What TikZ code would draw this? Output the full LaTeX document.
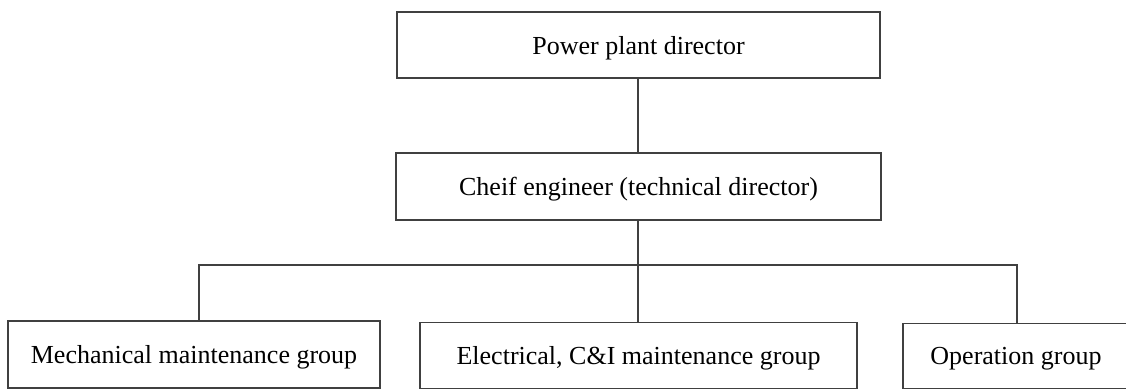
\documentclass[tikz,border=0pt]{standalone}
\usepackage{fontspec}
\setmainfont{Liberation Serif}
\definecolor{linegray}{HTML}{404040}
\newcommand{\lowertxt}[1]{\raisebox{-3pt}[\height][\depth]{#1}}
\begin{document}
\begin{tikzpicture}[x=1pt,y=-1pt,
  orgbox/.style={draw=linegray, line width=1.3pt, rectangle, inner sep=0pt,
    font=\fontsize{26}{30}\selectfont, text=black},
  link/.style={draw=linegray, line width=1.4pt}]
\clip (0,0) rectangle (1126,390);
\fill[white] (0,0) rectangle (1126,390);
\node[orgbox, minimum width=483pt, minimum height=66pt] (dir) at (638.5,45) {\lowertxt{Power plant director}};
\node[orgbox, minimum width=485pt, minimum height=67pt] (chief) at (638.5,186.5) {\lowertxt{Cheif engineer (technical director)}};
\node[orgbox, minimum width=372pt, minimum height=67pt] (mech) at (194,354.5) {\lowertxt{Mechanical maintenance group}};
\node[orgbox, minimum width=437pt, minimum height=66pt] (elec) at (638.5,355.5) {\lowertxt{Electrical, C\&I maintenance group}};
\node[orgbox, minimum width=226pt, minimum height=65pt] (oper) at (1016,356) {\lowertxt{Operation group}};
\coordinate (j) at (638,265);
\draw[link] (dir.south -| j) -- (chief.north -| j);
\draw[link] (chief.south -| j) -- (elec.north -| j);
\draw[link] (mech.north -| 199,0) |- (j);
\draw[link] (oper.north -| 1017,0) |- (j);
\end{tikzpicture}
\end{document}
